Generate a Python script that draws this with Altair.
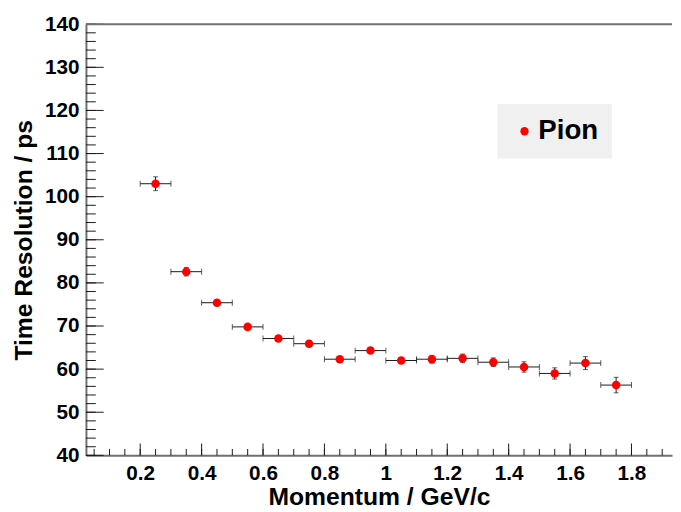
import altair as alt
import pandas as pd

# ---- data ----
momentum = [0.25, 0.35, 0.45, 0.55, 0.65, 0.75, 0.85, 0.95,
            1.05, 1.15, 1.25, 1.35, 1.45, 1.55, 1.65, 1.75]
momentum_err = [0.05] * 16
resolution = [103.0, 82.6, 75.4, 69.8, 67.1, 65.9, 62.3, 64.3,
              62.0, 62.3, 62.5, 61.6, 60.5, 59.0, 61.4, 56.3]
resolution_err = [1.6, 1.0, 0.6, 0.6, 0.6, 0.6, 0.6, 0.6,
                  0.7, 0.9, 1.0, 1.0, 1.2, 1.3, 1.5, 1.8]
series = ["Pion"] * 16

x_major = [0.2, 0.4, 0.6, 0.8, 1.0, 1.2, 1.4, 1.6, 1.8]
x_minor = [round(0.05 * i, 2) for i in range(1, 39)]
y_major = [40, 50, 60, 70, 80, 90, 100, 110, 120, 130, 140]
y_minor = list(range(40, 141, 2))

W, H = 594, 437
FONT = "Liberation Sans"
LINE = "#1a1a1a"

df = pd.DataFrame({
    "p": momentum,
    "res": resolution,
    "xlo": [m - e for m, e in zip(momentum, momentum_err)],
    "xhi": [m + e for m, e in zip(momentum, momentum_err)],
    "rlo": [r - e for r, e in zip(resolution, resolution_err)],
    "rhi": [r + e for r, e in zip(resolution, resolution_err)],
    "series": series,
})

xscale = alt.Scale(domain=[0.0233, 1.932], nice=False, zero=False)
yscale = alt.Scale(domain=[40, 140], nice=False, zero=False)

# one shared axis definition per channel, used identically by every layer
XAX = alt.Axis(values=x_major, format="~g", title="Momentum / GeV/c",
               labelPadding=7, titlePadding=2)
YAX = alt.Axis(values=y_major, format="d", title="Time Resolution / ps",
               labelPadding=7, titlePadding=8)


def X(field):
    return alt.X(field, type="quantitative", scale=xscale, axis=XAX)


def Y(field):
    return alt.Y(field, type="quantitative", scale=yscale, axis=YAX)


base = alt.Chart(df)

# inward tick marks (ROOT style)
ymaj = alt.Chart(pd.DataFrame({"v": y_major})).mark_rule(color=LINE, strokeWidth=1).encode(
    y=Y("v"), x=alt.value(0), x2=alt.value(18))
ymin = alt.Chart(pd.DataFrame({"v": y_minor})).mark_rule(color=LINE, strokeWidth=1).encode(
    y=Y("v"), x=alt.value(0), x2=alt.value(10))
xmaj = alt.Chart(pd.DataFrame({"v": x_major})).mark_rule(color=LINE, strokeWidth=1).encode(
    x=X("v"), y=alt.value(H), y2=alt.value(H - 12))
xmin = alt.Chart(pd.DataFrame({"v": x_minor})).mark_rule(color=LINE, strokeWidth=1).encode(
    x=X("v"), y=alt.value(H), y2=alt.value(H - 6.5))
top = alt.Chart(pd.DataFrame({"v": [140]})).mark_rule(color="#707070", strokeWidth=2).encode(
    y=Y("v"), x=alt.value(0), x2=alt.value(W))

hbar = base.mark_rule(color=LINE, strokeWidth=1).encode(
    x=X("xlo"), x2="xhi:Q", y=Y("res"))
vbar = base.mark_rule(color=LINE, strokeWidth=1).encode(
    x=X("p"), y=Y("rlo"), y2="rhi:Q")
hcap = base.transform_fold(["xlo", "xhi"], as_=["k", "xc"]).mark_tick(
    color=LINE, orient="vertical", size=6, thickness=1).encode(
    x=X("xc"), y=Y("res"))
vcap = base.transform_fold(["rlo", "rhi"], as_=["k", "yc"]).mark_tick(
    color=LINE, orient="horizontal", size=5, thickness=1).encode(
    x=X("p"), y=Y("yc"))

points = base.mark_point(filled=True, shape="circle", size=75, opacity=1).encode(
    x=X("p"),
    y=Y("res"),
    color=alt.Color("series:N", scale=alt.Scale(range=["#ff0000"]),
                    legend=alt.Legend(
                        orient="none", legendX=417, legendY=81,
                        fillColor="#f0f0f0", padding=13.5,
                        symbolType="circle", symbolSize=70,
                        symbolStrokeWidth=0, symbolFillColor="#ff0000",
                        labelFont=FONT, labelFontSize=28,
                        labelFontWeight="bold", labelColor="black",
                        labelOffset=0, title=None,
                    )),
)

chart = alt.layer(ymin, ymaj, xmin, xmaj, top, hbar, vbar, hcap, vcap, points).properties(
    width=W, height=H,
    padding={"left": 3, "top": 2, "right": 0, "bottom": 0},
    background="white",
).configure_view(
    stroke=None
).configure_axis(
    grid=False, ticks=False, tickSize=0,
    domain=True, domainColor="#707070", domainWidth=2,
    labelFont=FONT, labelFontSize=21, labelFontWeight="bold", labelColor="black",
    titleFont=FONT, titleFontSize=25, titleFontWeight="bold", titleColor="black",
)

chart.save("out.html", embed_options={"renderer": "svg", "actions": False})
